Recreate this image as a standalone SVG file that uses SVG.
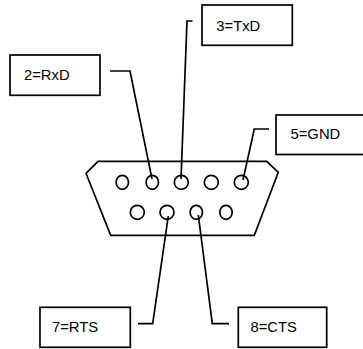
<svg xmlns="http://www.w3.org/2000/svg" width="363" height="349" viewBox="0 0 363 349">
<style>
.s{fill:none;stroke:#000;stroke-width:1.7}
.b{fill:#fff;stroke:#000;stroke-width:1.7}
text{font-family:"Liberation Sans",Arial,sans-serif;font-size:14.8px;fill:#000}
</style>
<rect width="363" height="349" fill="#fff"/>
<g id="connector">
<path class="s" d="M86 173.3L98 161.3H266.7L278.3 172.3L254.3 235.3H110.7Z"/>
<ellipse class="s" cx="122.3" cy="182.3" rx="6.2" ry="7"/>
<ellipse class="s" cx="152.3" cy="182.3" rx="6.2" ry="7"/>
<ellipse class="s" cx="181.3" cy="182.3" rx="7" ry="7"/>
<ellipse class="s" cx="211.3" cy="182.3" rx="7" ry="7"/>
<ellipse class="s" cx="241.3" cy="182.3" rx="7" ry="7"/>
<ellipse class="s" cx="137.3" cy="212.3" rx="7" ry="7"/>
<ellipse class="s" cx="167" cy="212.3" rx="7" ry="7"/>
<ellipse class="s" cx="196.3" cy="212.3" rx="6.2" ry="7"/>
<ellipse class="s" cx="226" cy="212.3" rx="6.2" ry="7"/>
</g>
<g id="connectors">
<path class="s" d="M110 71H130L152 179"/>
<path class="s" d="M192.5 21H187L181 179"/>
<path class="s" d="M269 129H254.3L243 180"/>
<path class="s" d="M138 323.7H152.7L168.3 216"/>
<path class="s" d="M229 323.7H212.3L198.3 215"/>
</g>
<g id="n2"><rect class="b" x="10" y="55" width="90" height="40.3"/><text x="24" y="80">2=RxD</text></g>
<g id="n3"><rect class="b" x="202" y="5" width="90.3" height="40.3"/><text x="216.3" y="30.5">3=TxD</text></g>
<g id="n5"><rect class="b" x="276" y="115" width="92" height="39.5"/><text x="290.5" y="139">5=GND</text></g>
<g id="n7"><rect class="b" x="40" y="307.3" width="90.3" height="40"/><text x="52" y="331.5">7=RTS</text></g>
<g id="n8"><rect class="b" x="238.3" y="307.3" width="88.4" height="40"/><text x="250.5" y="331.5">8=CTS</text></g>
</svg>
